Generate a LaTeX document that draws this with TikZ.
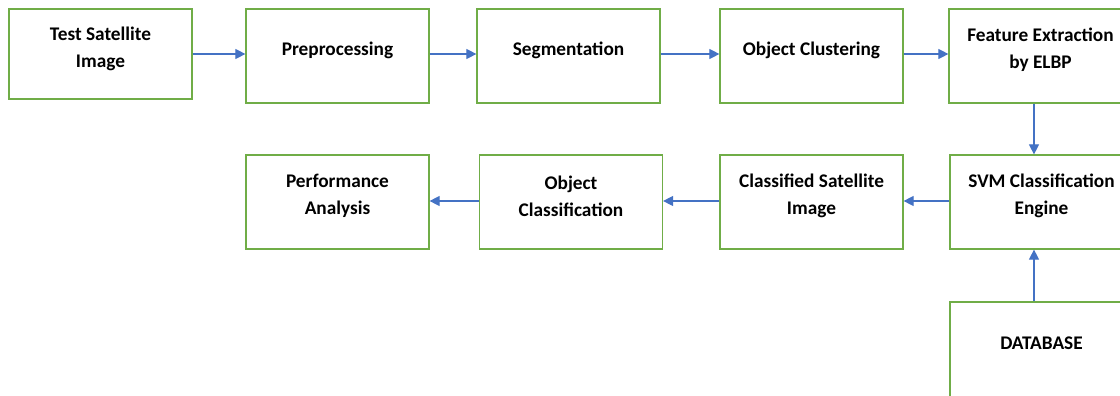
\documentclass[tikz,border=0pt]{standalone}
\usepackage{fontspec}
\setmainfont{Carlito}
\usetikzlibrary{arrows.meta}
\definecolor{boxgreen}{RGB}{112,173,71}
\definecolor{arrowblue}{RGB}{68,114,196}
\tikzset{
  box/.style={draw=boxgreen, line width=1.2pt, fill=white, minimum width=183pt, minimum height=94pt, inner sep=0pt},
  lbl/.style={align=center, font=\fontsize{19.3}{27}\selectfont\bfseries, inner sep=0pt},
  flow/.style={draw=arrowblue, line width=1.1pt, -{Triangle[length=10pt,width=10pt]}}
}
\begin{document}
\begin{tikzpicture}[x=1pt,y=1pt]
  \useasboundingbox (0,0) rectangle (1120,-396);
  \clip (0,0) rectangle (1120,-396);
  % top row
  \node[box, minimum height=90pt] (a) at (100.5,-54) {};
  \node[box] (b) at (337.5,-56) {};
  \node[box] (c) at (568.5,-56) {};
  \node[box] (d) at (811.5,-56) {};
  \node[box] (e) at (1040.5,-56) {};
  % second row
  \node[box] (f) at (1041.5,-202) {};
  \node[box] (g) at (811.5,-202) {};
  \node[box] (h) at (571,-202) {};
  \node[box] (i) at (337.5,-202) {};
  % database
  \node[box, minimum height=98pt] (j) at (1041.5,-351) {};
  % labels
  \node[lbl] (ta) at ([yshift=5.5]a.center) {Test Satellite\\Image};
  \node[lbl] (tb) at ([yshift=5.5]b.center) {Preprocessing};
  \node[lbl] (tc) at ([yshift=5.5]c.center) {Segmentation};
  \node[lbl] (td) at ([yshift=5.5]d.center) {Object Clustering};
  \node[lbl] (te) at ([yshift=6]e.center) {Feature Extraction\\by ELBP};
  \node[lbl] (tf) at ([yshift=6]f.center) {SVM Classification\\Engine};
  \node[lbl] (tg) at ([yshift=6]g.center) {Classified Satellite\\Image};
  \node[lbl] (th) at ([yshift=6]h.center) {Object\\Classification};
  \node[lbl] (ti) at ([yshift=6]i.center) {Performance\\Analysis};
  \node[lbl] (tj) at (1041.5,-343) {DATABASE};
  % connectors
  \draw[flow] (a.east) -- (b.west |- a.east);
  \draw[flow] ([yshift=2]b.east) -- ([yshift=2]c.west);
  \draw[flow] ([yshift=2]c.east) -- ([yshift=2]d.west);
  \draw[flow] ([yshift=2]d.east) -- ([yshift=2]e.west);
  \draw[flow] ([xshift=-6.5]e.south) -- ([xshift=-7.5]f.north);
  \draw[flow] ([xshift=-7.5]j.north) -- ([xshift=-7.5]f.south);
  \draw[flow] ([yshift=1]f.west) -- ([yshift=1]g.east);
  \draw[flow] ([yshift=1]g.west) -- ([yshift=1]h.east);
  \draw[flow] ([yshift=1]h.west) -- ([yshift=1]i.east);
\end{tikzpicture}
\end{document}
